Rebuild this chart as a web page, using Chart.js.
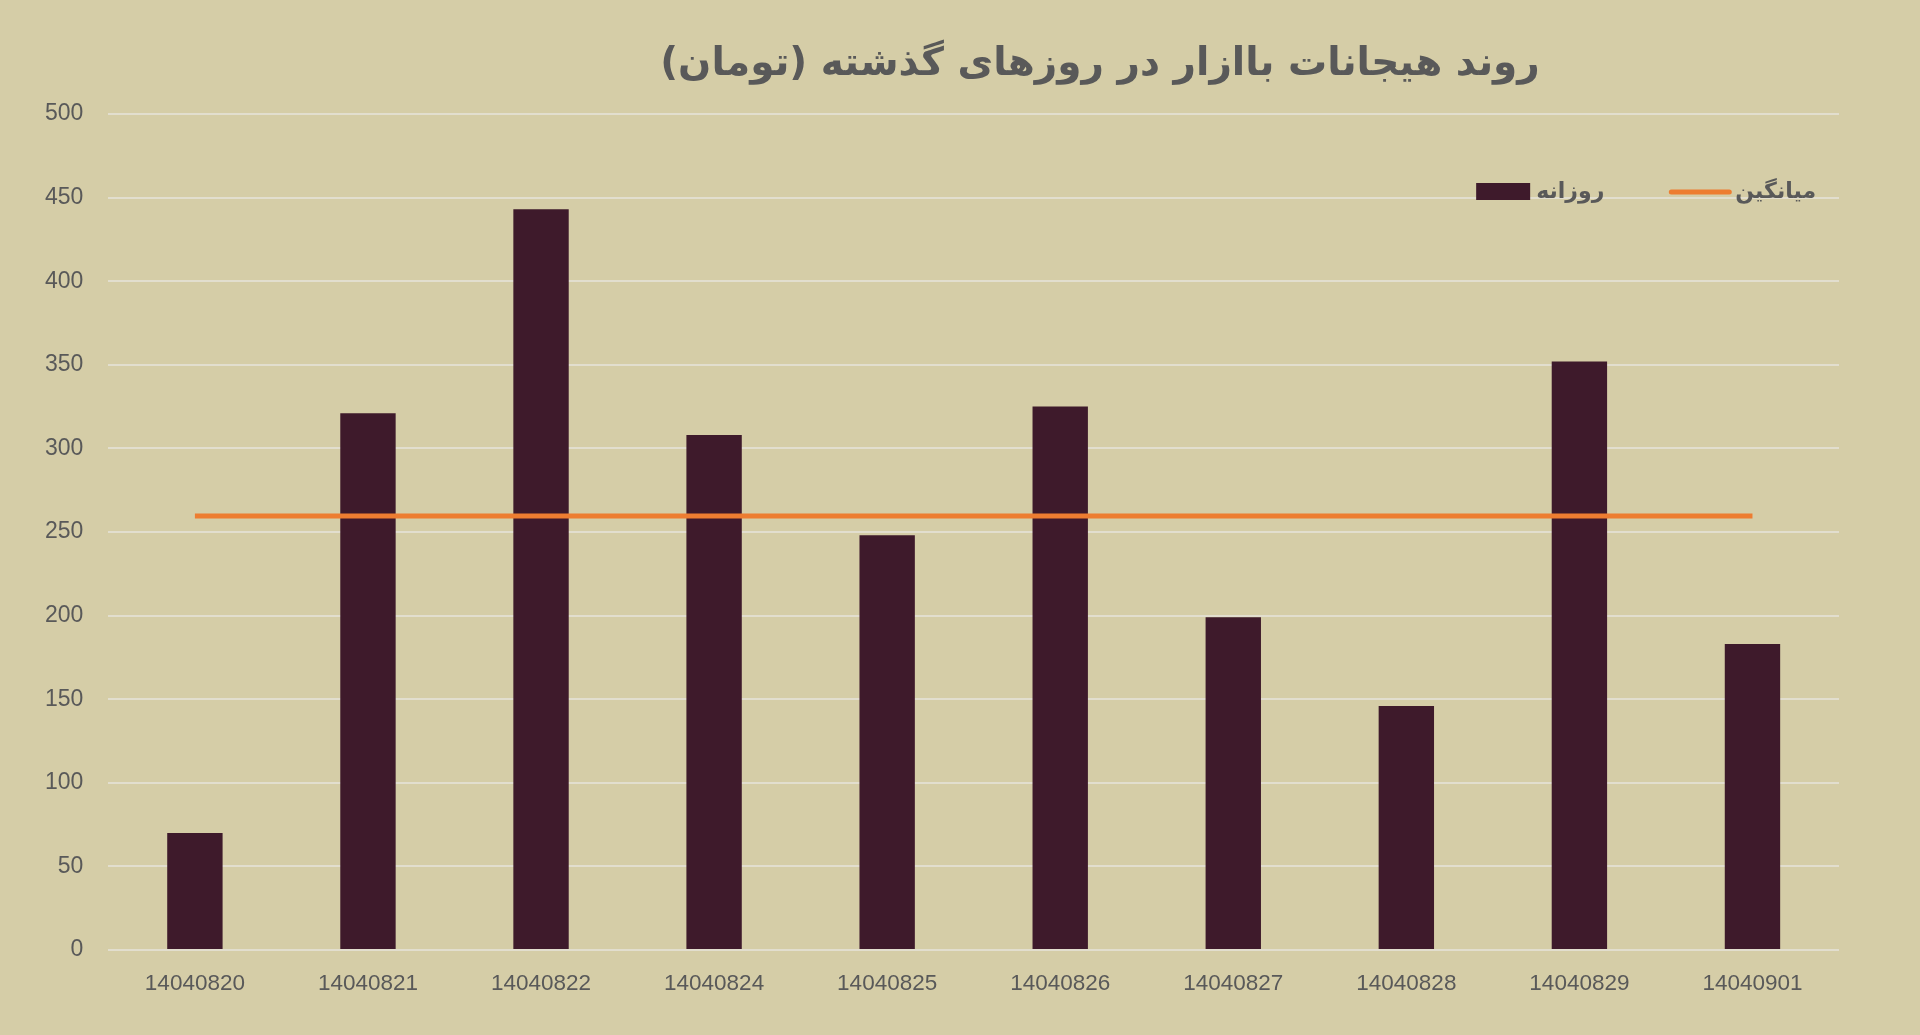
<!DOCTYPE html>
<html>
<head>
<meta charset="utf-8">
<script src="https://cdn.jsdelivr.net/npm/chart.js@4.4.1/dist/chart.umd.min.js"></script>
<style>
  html, body { margin: 0; padding: 0; background: #d5cda7; }
  #wrap { width: 1920px; height: 1035px; }
</style>
</head>
<body>
<div id="wrap"><canvas id="bazar"></canvas></div>
<script>
// روند هیجانات بازار
const days = ['14040820', '14040821', '14040822', '14040824', '14040825', '14040826', '14040827', '14040828', '14040829', '14040901'];
const daily = [70, 321, 443, 308, 248, 325, 199, 146, 352, 183];
const average = [259.5, 259.5, 259.5, 259.5, 259.5, 259.5, 259.5, 259.5, 259.5, 259.5];
const yTicks = [0, 50, 100, 150, 200, 250, 300, 350, 400, 450, 500];

const titleText = 'روند هیجانات باازار در روزهای گذشته (تومان)';

// title sits right of centre, so draw it here
const drawTitle = {
    id: 'drawTitle',
    afterDraw(chart) {
        const c = chart.ctx;
        c.save();
        c.font = 'bold 39px "DejaVu Sans"';
        c.fillStyle = '#595959';
        c.textAlign = 'center';
        c.textBaseline = 'middle';
        c.direction = 'rtl';
        c.fillText(titleText, 1100, 65);
        c.restore();
    }
};

// legend inside the plot, top right, right-to-left
const insideLegend = {
    id: 'insideLegend',
    afterDraw(chart) {
        const c = chart.ctx;
        const area = chart.chartArea;
        let x = area.right - 23;
        const y = area.top + 78;
        c.save();
        c.font = 'bold 22px "DejaVu Sans"';
        c.textBaseline = 'middle';
        c.textAlign = 'right';
        c.direction = 'rtl';
        chart.data.datasets.forEach(ds => {
            const w = c.measureText(ds.label).width;
            c.fillStyle = '#595959';
            c.fillText(ds.label, x, y);
            x -= w + 6;
            if (ds.type === 'line') {
                c.strokeStyle = ds.borderColor;
                c.lineWidth = ds.borderWidth;
                c.lineCap = 'round';
                c.beginPath();
                c.moveTo(x - 58, y);
                c.lineTo(x, y);
                c.stroke();
                x -= 58;
            } else {
                c.fillStyle = ds.backgroundColor;
                c.fillRect(x - 54, y - 9, 54, 17);
                x -= 54;
            }
            x -= 67;
        });
        c.restore();
    }
};

const ctx = document.getElementById('bazar').getContext('2d');

const bazarChart = new Chart(ctx, {
    type: 'bar',
    data: {
        labels: days,
        datasets: [{
            type: 'line',
            label: 'میانگین',
            data: average,
            borderColor: '#ed7d31',
            backgroundColor: '#ed7d31',
            borderWidth: 5,
            pointRadius: 0,
            order: 0
        }, {
            label: 'روزانه',
            data: daily,
            backgroundColor: '#3e1a2b',
            borderWidth: 0,
            barPercentage: 1,
            categoryPercentage: 0.32,
            order: 1
        }]
    },
    options: {
        responsive: true,
        maintainAspectRatio: false,
        animation: false,
        layout: {
            padding: { left: 20, right: 81, top: 114, bottom: 26 }
        },
        plugins: {
            legend: { display: false },
            tooltip: { enabled: false }
        },
        scales: {
            x: {
                grid: { display: false },
                border: { display: false },
                ticks: {
                    color: '#595959',
                    padding: 12,
                    font: { family: '"Liberation Sans"', size: 22.5 }
                }
            },
            y: {
                min: 0,
                max: 500,
                afterBuildTicks(scale) {
                    scale.ticks = yTicks.map(v => ({ value: v }));
                },
                grid: { color: '#e2dece', lineWidth: 2, drawTicks: false },
                border: { display: false },
                ticks: {
                    color: '#595959',
                    padding: 25,
                    font: { family: '"Liberation Sans"', size: 23 }
                }
            }
        }
    },
    plugins: [drawTitle, insideLegend]
});
</script>
</body>
</html>
